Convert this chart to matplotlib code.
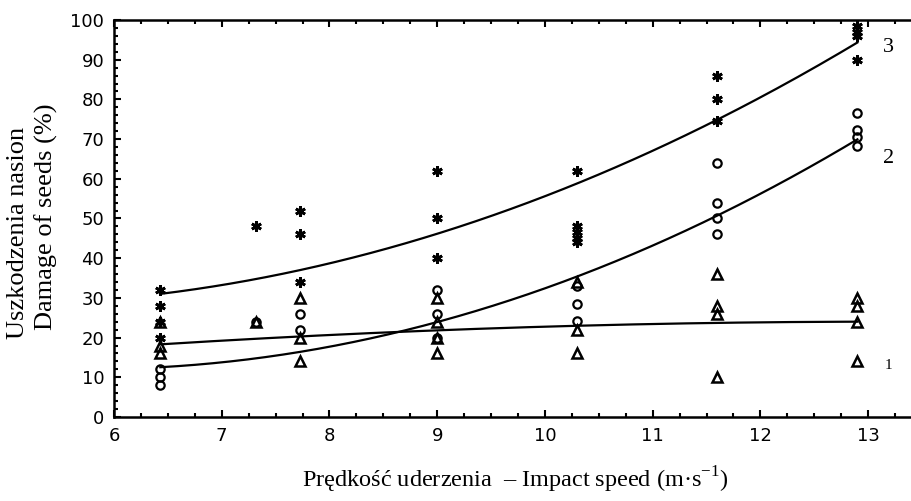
import numpy as np
import matplotlib
matplotlib.use("Agg")
import matplotlib.pyplot as plt
from matplotlib.ticker import MultipleLocator

plt.rcParams["mathtext.fontset"] = "custom"
plt.rcParams["mathtext.rm"] = "Liberation Serif"

# impact speeds (m/s) where seeds were tested
speeds = [6.43, 7.32, 7.73, 9.0, 10.3, 11.6, 12.9]

# series 3 - stars
s3_x = [6.43, 6.43, 6.43, 6.43, 7.32, 7.73, 7.73, 7.73, 9.0, 9.0, 9.0,
        10.3, 10.3, 10.3, 10.3, 10.3, 11.6, 11.6, 11.6, 12.9, 12.9, 12.9, 12.9]
s3_y = [32, 28, 24, 20, 48, 52, 46, 34, 62, 50, 40,
        62, 48, 46.5, 45, 44, 86, 80, 74.5, 98.5, 97, 96, 90]

# series 2 - circles
s2_x = [6.43, 6.43, 6.43, 7.32, 7.73, 7.73, 9.0, 9.0, 9.0,
        10.3, 10.3, 10.3, 11.6, 11.6, 11.6, 11.6, 12.9, 12.9, 12.9, 12.9]
s2_y = [12, 10, 8, 24, 26, 22, 32, 26, 20,
        33, 28.5, 24.3, 64, 54, 50, 46, 76.5, 72.3, 70.4, 68.3]

# series 1 - triangles
s1_x = [6.43, 6.43, 6.43, 7.32, 7.73, 7.73, 7.73, 9.0, 9.0, 9.0, 9.0,
        10.3, 10.3, 10.3, 11.6, 11.6, 11.6, 11.6, 12.9, 12.9, 12.9, 12.9]
s1_y = [24, 18, 16, 24, 30, 20, 14, 30, 24, 20, 16,
        34, 22, 16, 36, 28, 26, 10, 30, 28, 24, 14]

# fitted curve values read at each speed
fit1 = [18.3, 19.7, 20.3, 21.8, 23.0, 23.7, 24.0]
fit2 = [12.5, 14.8, 16.4, 24.0, 35.4, 50.6, 70.0]
fit3 = [31.0, 34.7, 37.0, 46.3, 59.0, 74.5, 94.5]

curve_labels = ["1", "2", "3"]
label_y = [13, 65, 93]

fig = plt.figure(figsize=(9.12, 5.01), dpi=100)
ax = fig.add_axes([0.125, 0.1677, 0.886, 0.7924])

xs = np.linspace(speeds[0], speeds[-1], 200)
for f in (fit1, fit2, fit3):
    c = np.polyfit(speeds, f, 2)
    ax.plot(xs, np.polyval(c, xs), color="black", lw=1.6)

ax.plot(s3_x, s3_y, ls="none", marker=(6, 2, 0), ms=7.5, mew=2, color="black")
ax.plot(s2_x, s2_y, ls="none", marker="o", ms=6, mew=1.6,
        mfc="none", mec="black")
ax.plot(s1_x, s1_y, ls="none", marker="^", ms=7, mew=1.8,
        mfc="none", mec="black")

for lbl, yy in zip(curve_labels, label_y):
    fs = 11 if lbl == "1" else 16
    ax.text(13.19, yy, lbl, fontsize=fs, family="Liberation Serif",
            ha="center", va="center")

ax.set_xlim(6, 13.5)
ax.set_ylim(0, 100)
ax.xaxis.set_major_locator(MultipleLocator(1))
ax.xaxis.set_minor_locator(MultipleLocator(0.25))
ax.yaxis.set_major_locator(MultipleLocator(10))
ax.yaxis.set_minor_locator(MultipleLocator(2))
ax.tick_params(which="both", direction="in", top=True, right=True,
               width=1.5, labelsize=13)
ax.tick_params(which="major", length=5, pad=7)
ax.tick_params(which="minor", length=3)
for sp in ax.spines.values():
    sp.set_linewidth(1.8)

fig.text(0.565, 0.026, "Prędkość uderzenia  – Impact speed (m·s$^{\\mathrm{-1}}$)",
         family="Liberation Serif", fontsize=17.5, ha="center", va="baseline")
fig.text(0.02, 0.536, "Uszkodzenia nasion", rotation=90,
         family="Liberation Serif", fontsize=19, ha="center", va="center")
fig.text(0.051, 0.568, "Damage of seeds (%)", rotation=90,
         family="Liberation Serif", fontsize=19, ha="center", va="center")

fig.savefig("out.png", dpi=100)
